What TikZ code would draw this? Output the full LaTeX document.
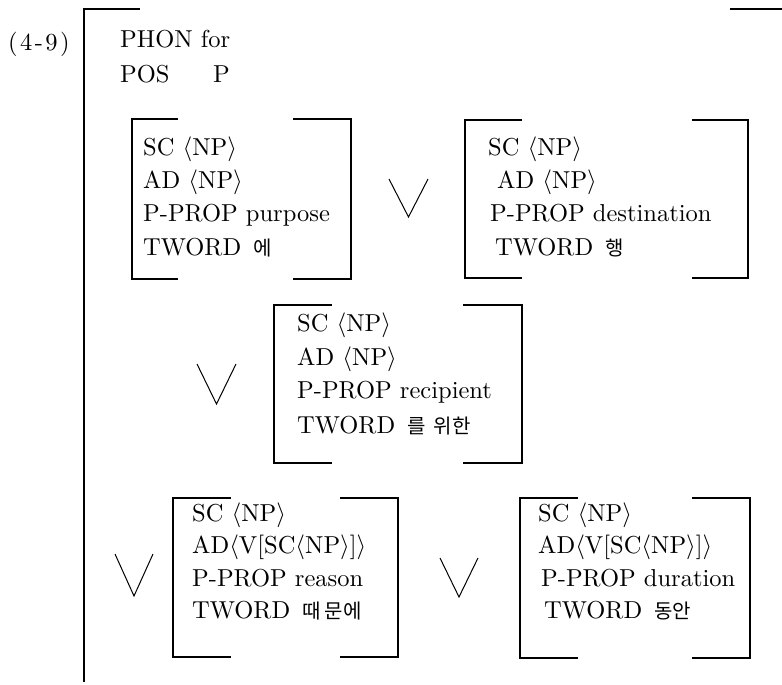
\documentclass[tikz,border=0pt]{standalone}
\usepackage{fontspec}
% the 10pt design of Latin Modern at every size
\setmainfont{lmroman10-regular}[Extension=.otf, BoldFont=lmroman10-bold, ItalicFont=lmroman10-italic]
\newfontfamily\krfont{Noto Sans CJK KR}

% Korean word at a slightly smaller size than the Latin text
\newcommand\ko[1]{{\fontsize{20}{24}\selectfont\krfont #1}}
\newcommand\ang[1]{$\langle$#1$\rangle$}

% open bracket pair: left x, top y, right x, bottom y, end of left stubs, start of right stubs
\newcommand\fsbracket[6]{%
  \draw[bracket] (#5,#2) -- (#1,#2) -- (#1,#4) -- (#5,#4);
  \draw[bracket] (#6,#2) -- (#3,#2) -- (#3,#4) -- (#6,#4);
}

\tikzset{
  bracket/.style={line width=1.1pt, line cap=butt, line join=miter},
  vee/.style={line width=1pt, line join=miter},
  row/.style={anchor=base west, inner sep=0pt, font=\fontsize{24.5}{28}\selectfont},
}

\begin{document}
\begin{tikzpicture}[x=1pt, y=-1pt]
\useasboundingbox (0,0) rectangle (782,685);

% example number and outer matrix bracket
\node[row] (lab) at (8,51) {{\addfontfeatures{LetterSpace=10}(4-9)}};
\draw[bracket] (140,9) -- (84,9) -- (84,682);
\draw[bracket] (730,9) -- (782,9);

\node[row] (phon) at (120,48) {PHON for};
\node[row] (pos) at (120,82) {POS};
\node[row] (posval) at (213,82) {P};

% purpose
\fsbracket{132}{119}{351}{279}{178}{293}
\node[row] (a1) at (143,155) {SC \ang{NP}};
\node[row] (a2) at (143,188) {AD \ang{NP}};
\node[row] (a3) at (143,221) {P-PROP purpose};
\node[row] (a4) at (143,255) {TWORD\hspace{12pt}\ko{에}};

\draw[vee] (389,179) -- (408.5,217) -- (428,179);

% destination
\fsbracket{465}{120}{748}{278}{522}{692}
\node[row] (b1) at (488,155) {SC \ang{NP}};
\node[row] (b2) at (497,188) {AD \ang{NP}};
\node[row] (b3) at (490,221) {P-PROP destination};
\node[row] (b4) at (495,255) {TWORD\hspace{12pt}\ko{행}};

\draw[vee] (197,364) -- (216.5,404) -- (236,364);

% recipient
\fsbracket{274}{305}{522}{463}{332}{463}
\node[row] (c1) at (297,331) {SC \ang{NP}};
\node[row] (c2) at (297,365) {AD \ang{NP}};
\node[row] (c3) at (297,398) {P-PROP recipient};
\node[row] (c4) at (297,433) {TWORD\hspace{12pt}\ko{를\hspace{8pt}위한}};

\draw[vee] (115,554) -- (134,596) -- (153,554);

% reason
\fsbracket{173}{498}{398}{657}{231}{340}
\node[row] (d1) at (192,521) {SC \ang{NP}};
\node[row] (d2) at (192,553) {AD\ang{V[SC\ang{NP}]}};
\node[row] (d3) at (192,586) {P-PROP reason};
\node[row] (d4) at (192,618) {TWORD\hspace{12pt}\ko{때\hspace{4pt}문에}};

\draw[vee] (440,558) -- (459,597) -- (478,558);

% duration
\fsbracket{520}{498}{750}{658}{578}{692}
\node[row] (e1) at (538,521) {SC \ang{NP}};
\node[row] (e2) at (538,553) {AD\ang{V[SC\ang{NP}]}};
\node[row] (e3) at (541,586) {P-PROP duration};
\node[row] (e4) at (544,618) {TWORD\hspace{12pt}\ko{동안}};
\end{tikzpicture}
\end{document}
